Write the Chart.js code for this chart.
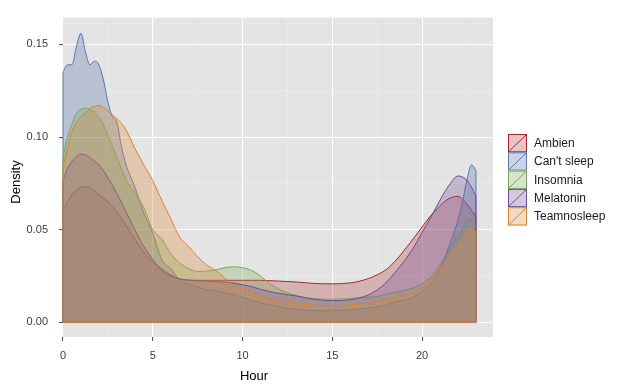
<!DOCTYPE html>
<html>
<head>
<meta charset="utf-8">
<script src="https://cdn.jsdelivr.net/npm/chart.js@4/dist/chart.umd.min.js"></script>
<style>
  html, body { margin: 0; padding: 0; background: #ffffff; }
  #grafico { display: block; }
</style>
</head>
<body>
<canvas id="grafico" width="620" height="387"></canvas>
<script>
const categorias = ['Ambien', "Can't sleep", 'Insomnia', 'Melatonin', 'Teamnosleep'];

const horas = [0, 0.25, 0.5, 0.75, 1, 1.25, 1.5, 1.75, 2, 2.25, 2.5, 2.75, 3, 3.25, 3.5,
  4, 4.5, 5, 5.5, 6, 6.5, 7, 7.5, 8, 8.5, 9, 9.5, 10, 10.5, 11, 11.5, 12,
  13, 14, 15, 16, 16.5, 17, 17.5, 18, 18.5, 19, 19.5, 20, 20.5, 21, 21.5, 22, 22.25, 22.5, 22.75, 23];

const ambien = [0.060, 0.065, 0.069, 0.0715, 0.073, 0.0732, 0.0725, 0.071, 0.069, 0.067, 0.065, 0.0625, 0.0595, 0.056, 0.0525,
  0.045, 0.038, 0.0327, 0.029, 0.0257, 0.0235, 0.0228, 0.0227, 0.0227, 0.0227, 0.0227, 0.0227, 0.0227, 0.0227, 0.0227, 0.0225, 0.0223,
  0.0218, 0.021, 0.0208, 0.0213, 0.0222, 0.0236, 0.0257, 0.0285, 0.033, 0.0388, 0.045, 0.0515, 0.0578, 0.063, 0.0668, 0.068, 0.0665, 0.0638, 0.0605, 0.057];

const cantSleep = [0.135, 0.139, 0.139, 0.149, 0.156, 0.146, 0.139, 0.141, 0.139, 0.131, 0.119, 0.111, 0.108, 0.095, 0.0855,
  0.073, 0.059, 0.048, 0.034, 0.029, 0.023, 0.0205, 0.019, 0.0175, 0.017, 0.016, 0.015, 0.0135, 0.012, 0.0105, 0.0095, 0.0085,
  0.007, 0.0063, 0.0063, 0.0068, 0.0072, 0.0078, 0.0085, 0.0095, 0.011, 0.012, 0.0135, 0.017, 0.021, 0.029, 0.041, 0.055, 0.065, 0.077, 0.085, 0.082];

const insomnia = [0.089, 0.100, 0.107, 0.1128, 0.115, 0.1155, 0.115, 0.1135, 0.111, 0.1065, 0.101, 0.095, 0.089, 0.083, 0.077,
  0.070, 0.062, 0.050, 0.045, 0.037, 0.032, 0.029, 0.0275, 0.0277, 0.0283, 0.0295, 0.030, 0.0295, 0.028, 0.025, 0.021, 0.018,
  0.0145, 0.0128, 0.0125, 0.013, 0.0132, 0.0135, 0.014, 0.0152, 0.0162, 0.0173, 0.0186, 0.021, 0.0245, 0.031, 0.039, 0.047, 0.050, 0.055, 0.0555, 0.054];

const melatonin = [0.0767, 0.083, 0.087, 0.0895, 0.0908, 0.0905, 0.089, 0.087, 0.085, 0.082, 0.078, 0.074, 0.0695, 0.065, 0.060,
  0.050, 0.041, 0.034, 0.028, 0.025, 0.0235, 0.0228, 0.0225, 0.0223, 0.022, 0.0217, 0.0212, 0.0203, 0.0193, 0.0178, 0.0166, 0.0157,
  0.0142, 0.0125, 0.0117, 0.0122, 0.0132, 0.0148, 0.0175, 0.0215, 0.027, 0.033, 0.040, 0.0485, 0.057, 0.066, 0.074, 0.079, 0.0785, 0.0767, 0.073, 0.068];

const teamnosleep = [0.0838, 0.094, 0.103, 0.108, 0.111, 0.113, 0.1155, 0.1165, 0.117, 0.116, 0.1143, 0.112, 0.110, 0.1075, 0.104,
  0.094, 0.085, 0.0765, 0.066, 0.056, 0.046, 0.041, 0.0355, 0.031, 0.028, 0.024, 0.020, 0.018, 0.0165, 0.0145, 0.0128, 0.0115,
  0.0103, 0.0093, 0.009, 0.0094, 0.0098, 0.0103, 0.0112, 0.0125, 0.014, 0.0148, 0.0158, 0.019, 0.023, 0.029, 0.035, 0.042, 0.045, 0.049, 0.0507, 0.049];

const series = [ambien, cantSleep, insomnia, melatonin, teamnosleep];

const ticksX = [0, 2.5, 5, 7.5, 10, 12.5, 15, 17.5, 20, 22.5];
const ticksY = [0, 0.025, 0.05, 0.075, 0.10, 0.125, 0.15];

const linhas = ['#a3292b', '#5a78ab', '#79a55a', '#6c4b96', '#d78232'];
const preenchimentos = ['rgba(178,60,60,0.30)', 'rgba(90,120,172,0.32)', 'rgba(122,170,90,0.30)',
  'rgba(112,80,152,0.30)', 'rgba(218,140,60,0.32)'];

const fonte = "'Liberation Sans', Arial, Helvetica, sans-serif";

function ehMaior(valor, passo) {
  return Math.abs(valor / passo - Math.round(valor / passo)) < 1e-6;
}

const fundoPainel = {
  id: 'fundoPainel',
  beforeDraw(chart) {
    const { ctx, chartArea } = chart;
    ctx.save();
    ctx.fillStyle = '#e4e4e4';
    ctx.fillRect(chartArea.left, chartArea.top, chartArea.right - chartArea.left, chartArea.bottom - chartArea.top);
    ctx.restore();
  }
};

// bordas laterais e base de cada densidade
const bordasDensidade = {
  id: 'bordasDensidade',
  afterDatasetDraw(chart, args) {
    const ds = chart.data.datasets[args.index];
    const { ctx, scales } = chart;
    const pts = ds.data;
    const x0 = scales.x.getPixelForValue(pts[0].x);
    const x1 = scales.x.getPixelForValue(pts[pts.length - 1].x);
    const yb = scales.y.getPixelForValue(0);
    ctx.save();
    ctx.strokeStyle = ds.borderColor;
    ctx.lineWidth = ds.borderWidth;
    ctx.beginPath();
    ctx.moveTo(x0, scales.y.getPixelForValue(pts[0].y));
    ctx.lineTo(x0, yb);
    ctx.lineTo(x1, yb);
    ctx.lineTo(x1, scales.y.getPixelForValue(pts[pts.length - 1].y));
    ctx.stroke();
    ctx.restore();
  }
};

const legendaETitulos = {
  id: 'legendaETitulos',
  afterDraw(chart) {
    const { ctx } = chart;
    ctx.save();
    const bx = 508, by = 134, bw = 19, bh = 18.3;
    chart.data.datasets.forEach((ds, i) => {
      const y = by + i * bh;
      ctx.fillStyle = '#ffffff';
      ctx.fillRect(bx, y, bw, bh);
      ctx.fillStyle = ds.backgroundColor;
      ctx.fillRect(bx, y, bw, bh);
      ctx.strokeStyle = ds.borderColor;
      ctx.lineWidth = 1;
      ctx.strokeRect(bx + 0.5, y + 0.5, bw - 1, bh - 1);
      ctx.beginPath();
      ctx.moveTo(bx + 0.5, y + bh - 0.5);
      ctx.lineTo(bx + bw - 0.5, y + 0.5);
      ctx.stroke();
      ctx.fillStyle = '#1a1a1a';
      ctx.font = '12px ' + fonte;
      ctx.textAlign = 'left';
      ctx.textBaseline = 'middle';
      ctx.fillText(ds.label, 534, y + bh / 2 + 0.5);
    });

    ctx.fillStyle = '#000000';
    ctx.font = '13px ' + fonte;
    ctx.textAlign = 'center';
    ctx.textBaseline = 'middle';
    ctx.fillText('Hour', 254, 376);
    ctx.translate(16, 182);
    ctx.rotate(-Math.PI / 2);
    ctx.fillText('Density', 0, 0);
    ctx.restore();
  }
};

const ctx = document.getElementById('grafico').getContext('2d');

new Chart(ctx, {
  type: 'line',
  data: {
    datasets: categorias.map((nome, i) => ({
      label: nome,
      data: horas.map((h, j) => ({ x: h, y: series[i][j] })),
      borderColor: linhas[i],
      backgroundColor: preenchimentos[i],
      borderWidth: 1,
      pointRadius: 0,
      fill: 'origin',
      cubicInterpolationMode: 'monotone',
      order: categorias.length - i
    }))
  },
  options: {
    responsive: false,
    animation: false,
    layout: { padding: { left: 0, top: 11, right: 127, bottom: 0 } },
    plugins: {
      legend: { display: false },
      tooltip: { enabled: false }
    },
    scales: {
      x: {
        type: 'linear',
        min: 0,
        max: 23.95,
        afterBuildTicks: (scale) => { scale.ticks = ticksX.map(v => ({ value: v })); },
        afterFit: (scale) => { scale.height = 50; },
        border: { display: false },
        grid: {
          color: (c) => ehMaior(c.tick.value, 5) ? '#ffffff' : '#eeeeee',
          lineWidth: (c) => ehMaior(c.tick.value, 5) ? 1.1 : 0.6,
          tickColor: (c) => ehMaior(c.tick.value, 5) ? '#555555' : 'rgba(0,0,0,0)',
          tickLength: 4
        },
        ticks: {
          autoSkip: false,
          maxRotation: 0,
          padding: 8,
          color: '#3c3c3c',
          font: { family: fonte, size: 11 },
          callback: (v) => ehMaior(v, 5) ? String(v) : ''
        }
      },
      y: {
        type: 'linear',
        min: -0.0079,
        max: 0.1645,
        afterBuildTicks: (scale) => { scale.ticks = ticksY.map(v => ({ value: v })); },
        afterFit: (scale) => { scale.width = 63; },
        border: { display: false },
        grid: {
          color: (c) => ehMaior(c.tick.value, 0.05) ? '#ffffff' : '#eeeeee',
          lineWidth: (c) => ehMaior(c.tick.value, 0.05) ? 1.1 : 0.6,
          tickColor: (c) => ehMaior(c.tick.value, 0.05) ? '#555555' : 'rgba(0,0,0,0)',
          tickLength: 4
        },
        ticks: {
          autoSkip: false,
          padding: 11,
          color: '#3c3c3c',
          font: { family: fonte, size: 11 },
          callback: (v) => ehMaior(v, 0.05) ? v.toFixed(2) : ''
        }
      }
    }
  },
  plugins: [fundoPainel, bordasDensidade, legendaETitulos]
});
</script>
</body>
</html>
